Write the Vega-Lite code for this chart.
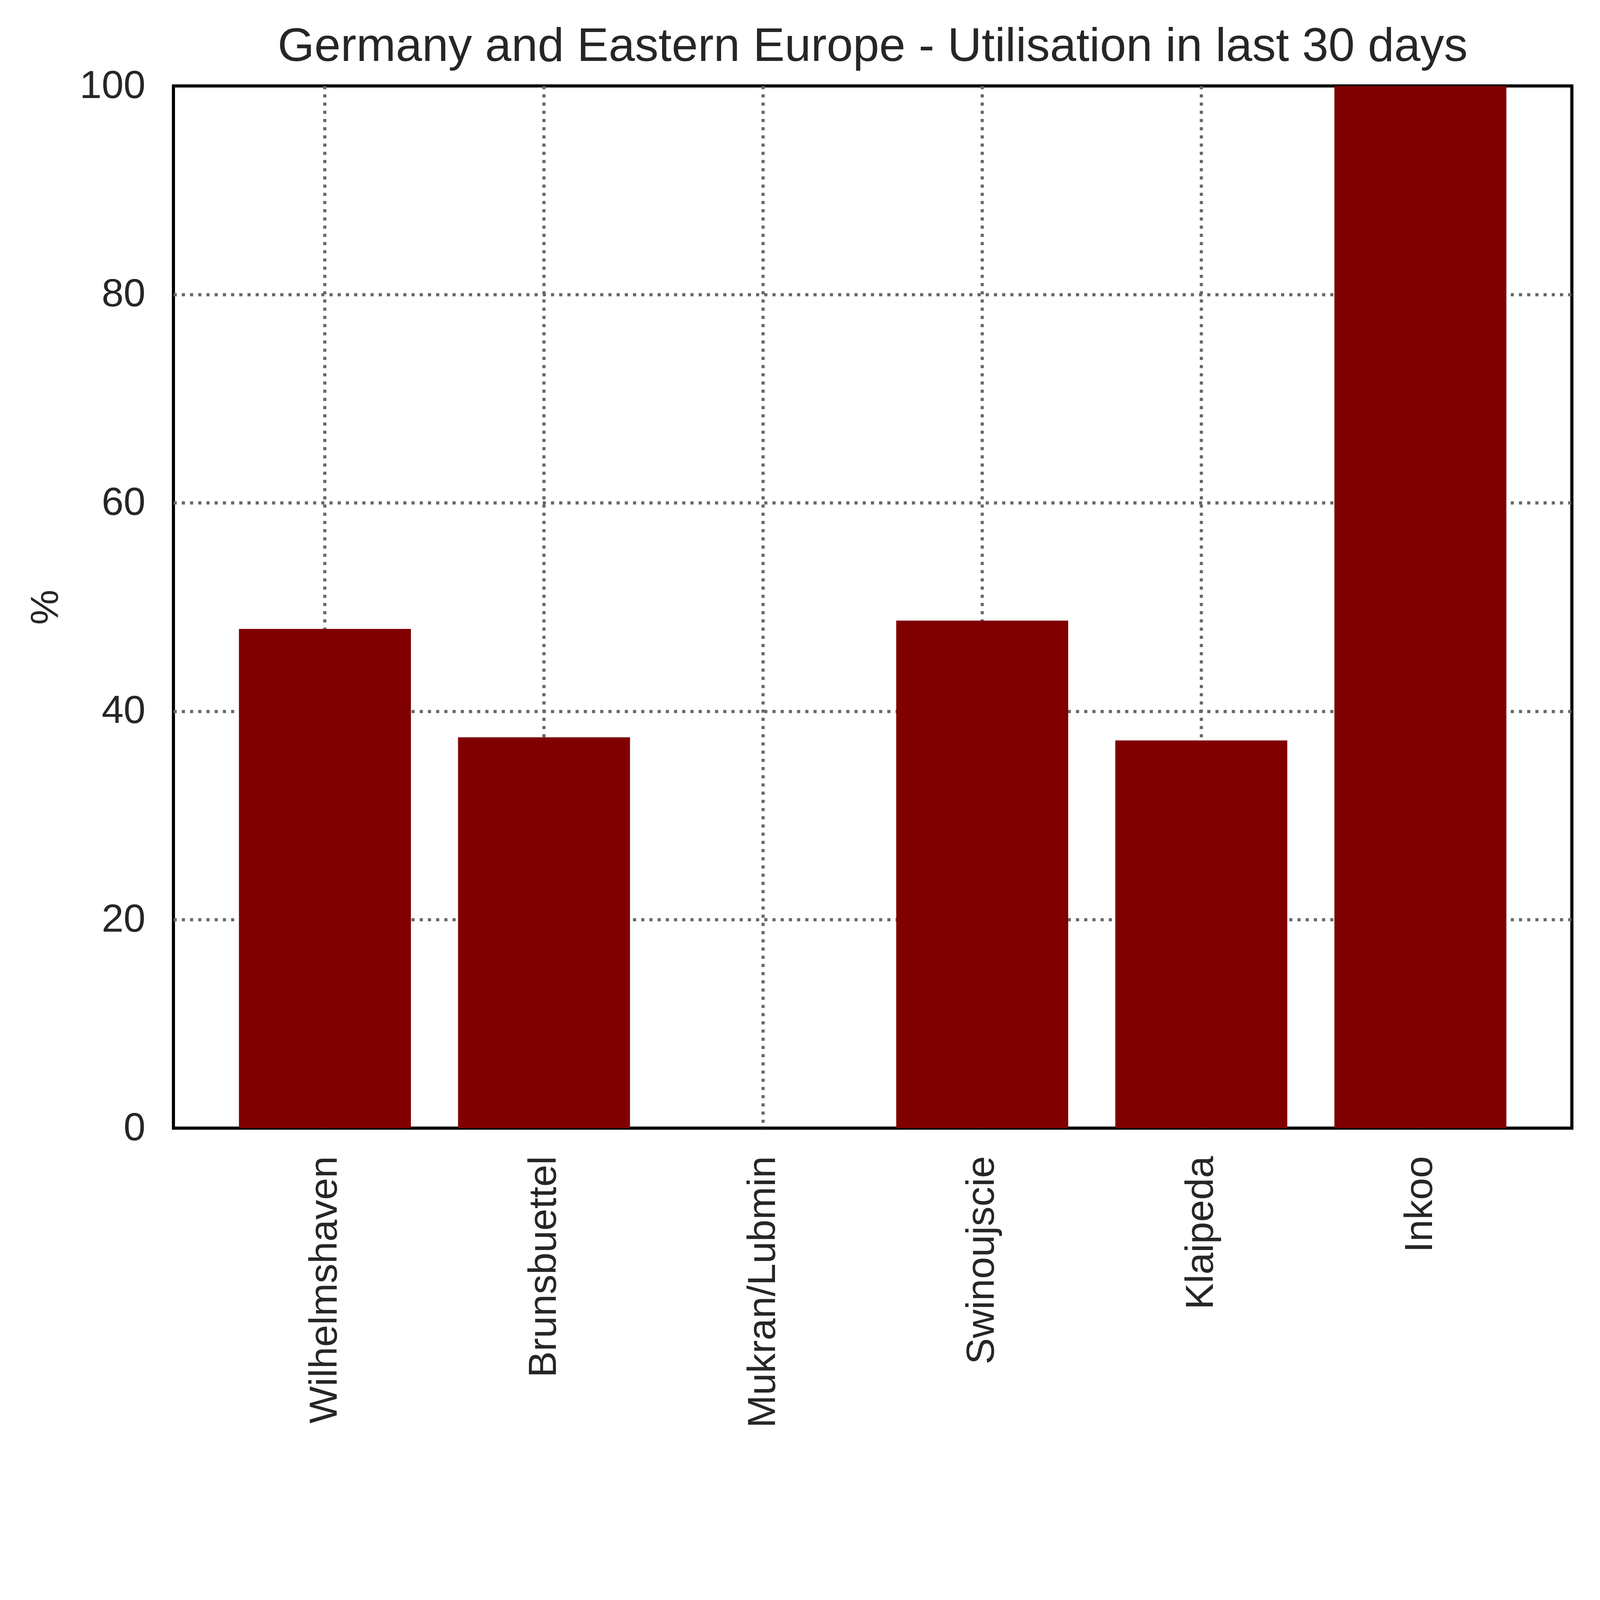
{
  "$schema": "https://vega.github.io/schema/vega-lite/v6.json",
  "autosize": {"type": "none"},
  "padding": {"left": 444, "top": 220, "right": 72, "bottom": 833},
  "width": 3580,
  "height": 2668,
  "background": "white",
  "title": {
    "text": "Germany and Eastern Europe - Utilisation in last 30 days",
    "font": "Liberation Sans",
    "fontSize": 121,
    "fontWeight": "normal",
    "color": "#262626",
    "anchor": "middle",
    "baseline": "alphabetic",
    "offset": -108
  },
  "data": {
    "values": [
      {"Terminal": "Wilhelmshaven", "Utilisation": 47.9},
      {"Terminal": "Brunsbuettel", "Utilisation": 37.5},
      {"Terminal": "Mukran/Lubmin", "Utilisation": 0},
      {"Terminal": "Swinoujscie", "Utilisation": 48.7},
      {"Terminal": "Klaipeda", "Utilisation": 37.2},
      {"Terminal": "Inkoo", "Utilisation": 100}
    ]
  },
  "mark": {"type": "bar", "color": "#800000"},
  "encoding": {
    "x": {
      "field": "Terminal",
      "type": "nominal",
      "sort": null,
      "title": null,
      "scale": {"paddingInner": 0.215, "paddingOuter": 0.299},
      "axis": {
        "labelAngle": -90,
        "labelPadding": 71,
        "bandPosition": 0.5,
        "grid": true
      }
    },
    "y": {
      "field": "Utilisation",
      "type": "quantitative",
      "title": "%",
      "scale": {"domain": [0, 100], "nice": false},
      "axis": {
        "values": [0, 20, 40, 60, 80, 100],
        "labelPadding": 72,
        "titlePadding": 76,
        "grid": true,
        "gridOpacity": {
          "condition": {"test": "datum.value == 0 || datum.value == 100", "value": 0},
          "value": 1
        }
      }
    }
  },
  "config": {
    "font": "Liberation Sans",
    "view": {"stroke": "black", "strokeWidth": 8},
    "axis": {
      "domain": false,
      "ticks": false,
      "labelFont": "Liberation Sans",
      "labelFontSize": 101,
      "labelColor": "#262626",
      "labelLimit": 0,
      "titleFont": "Liberation Sans",
      "titleFontSize": 101,
      "titleFontWeight": "normal",
      "titleColor": "#262626",
      "titleLimit": 0,
      "gridColor": "#666666",
      "gridOpacity": 1,
      "gridWidth": 8,
      "gridDash": [8, 13],
      "labelFlush": false,
      "labelOverlap": false
    }
  }
}
